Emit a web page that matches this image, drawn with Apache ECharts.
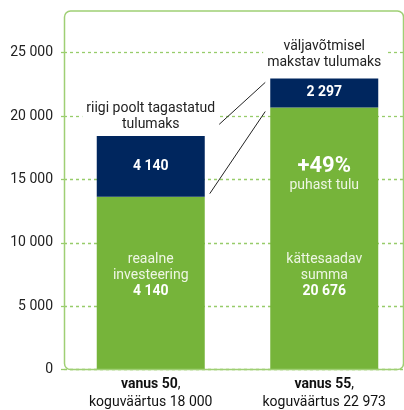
<!DOCTYPE html>
<html>
<head>
<meta charset="utf-8">
<script src="https://cdn.jsdelivr.net/npm/echarts@6/dist/echarts.min.js"></script>
<style>
  html, body { margin: 0; padding: 0; background: #fff; }
  #main { width: 404px; height: 410px; }
</style>
</head>
<body>
<div id="main"></div>
<script>
// andmed
var ages = ['vanus 50', 'vanus 55'];
var totalLabels = ['koguväärtus 18 000', 'koguväärtus 22 973'];
var baseValues = [13640, 20676];   // roheline osa
var taxValues = [4790, 2297];      // tumesinine osa (tulumaks)
var taxText = ['4 140', '2 297'];
var baseText = [['reaalne', 'investeering', '4 140'], ['kättesaadav', 'summa', '20 676']];
var gainText = ['', '+49%'];
var gainSub = ['', 'puhast tulu'];
var captions = [['riigi poolt tagastatud', 'tulumaks'], ['väljavõtmisel', 'makstav tulumaks']];
var yMax = 25000, yStep = 5000;

var GREEN = '#76b43a', NAVY = '#00265e', GRIDC = '#97cc6a';
var FONT = 'Roboto';
var BAR_W = 108;

function fmt(v) { return String(v).replace(/\B(?=(\d{3})+(?!\d))/g, ' '); }

var baseData = baseValues.map(function (v, i) {
  var s = '';
  if (gainText[i]) s += '{big|' + gainText[i] + '}\n{s|' + gainSub[i] + '}\n{sp| }\n';
  s += '{t|' + baseText[i][0] + '}\n{t|' + baseText[i][1] + '}\n{n|' + baseText[i][2] + '}';
  return { value: v, label: { formatter: s } };
});
var taxData = taxValues.map(function (v, i) {
  return { value: v, label: { formatter: taxText[i] } };
});
var capData = captions.map(function (c, i) {
  return {
    coord: [i, baseValues[i] + taxValues[i]],
    value: 0,
    label: { formatter: c.join('\n'), distance: i === 0 ? 1 : 6 }
  };
});

var chart = echarts.init(document.getElementById('main'));
chart.setOption({
  animation: false,
  textStyle: { fontFamily: FONT },
  grid: { left: 64, right: -7, top: 52.7, bottom: 40.5, outerBoundsMode: 'none', containLabel: false },
  xAxis: {
    type: 'category',
    data: ages,
    axisLine: { show: false },
    axisTick: { show: false },
    axisLabel: {
      margin: 6,
      color: '#111',
      fontSize: 14,
      lineHeight: 18,
      formatter: function (v, i) { return '{b|' + v + '},\n' + totalLabels[i]; },
      rich: { b: { fontWeight: 'bold', fontSize: 14, color: '#111', lineHeight: 18 } }
    }
  },
  yAxis: {
    type: 'value',
    min: 0, max: yMax, interval: yStep,
    axisLine: { show: false },
    axisTick: { show: true, length: 5, lineStyle: { color: GRIDC, width: 1.3, type: [3, 3] } },
    axisLabel: { margin: 11, color: '#222', fontSize: 14, formatter: fmt },
    splitLine: { lineStyle: { color: GRIDC, width: 1.3, type: [3, 3] } }
  },
  series: [
    {
      type: 'bar', stack: 'a', barWidth: BAR_W,
      itemStyle: { color: GREEN },
      data: baseData,
      label: {
        show: true, position: 'insideBottom', distance: 70,
        rich: {
          big: { fontSize: 22, fontWeight: 'bold', color: '#fff', lineHeight: 22 },
          s: { fontSize: 14, color: '#eef6e4', lineHeight: 16 },
          sp: { fontSize: 2, lineHeight: 58 },
          t: { fontSize: 14, color: '#eef6e4', lineHeight: 16 },
          n: { fontSize: 14, fontWeight: 'bold', color: '#fff', lineHeight: 16 }
        }
      }
    },
    {
      type: 'bar', stack: 'a', barWidth: BAR_W,
      itemStyle: { color: NAVY },
      data: taxData,
      label: { show: true, position: 'inside', color: '#fff', fontWeight: 'bold', fontSize: 14 },
      markPoint: {
        symbol: 'circle', symbolSize: 0,
        label: {
          show: true, position: 'top', color: '#222', fontSize: 14, lineHeight: 16,
          backgroundColor: '#fff', padding: [2, 4]
        },
        data: capData
      }
    }
  ]
});

// raam ja ühendusjooned
var a1 = chart.convertToPixel({ seriesIndex: 0 }, [0, baseValues[0] + taxValues[0]]);
var b1 = chart.convertToPixel({ seriesIndex: 0 }, [0, baseValues[0]]);
var a2 = chart.convertToPixel({ seriesIndex: 0 }, [1, baseValues[1] + taxValues[1]]);
var b2 = chart.convertToPixel({ seriesIndex: 0 }, [1, baseValues[1]]);
var zero = chart.convertToPixel({ seriesIndex: 0 }, [0, 0]);
var r1 = a1[0] + BAR_W / 2 + 5, l2 = a2[0] - BAR_W / 2 - 5;

chart.setOption({
  graphic: [
    { type: 'rect', z: 5, shape: { x: 64.5, y: 11, width: 339, height: zero[1] - 11, r: 6 },
      style: { fill: null, stroke: '#9fcf74', lineWidth: 1.5 } },
    { type: 'line', z: 5, shape: { x1: r1, y1: a1[1] - 3, x2: l2, y2: a2[1] + 4 },
      style: { stroke: '#222', lineWidth: 1 } },
    { type: 'line', z: 5, shape: { x1: r1, y1: b1[1] - 3, x2: l2, y2: b2[1] + 4 },
      style: { stroke: '#222', lineWidth: 1 } }
  ]
});
</script>
</body>
</html>
